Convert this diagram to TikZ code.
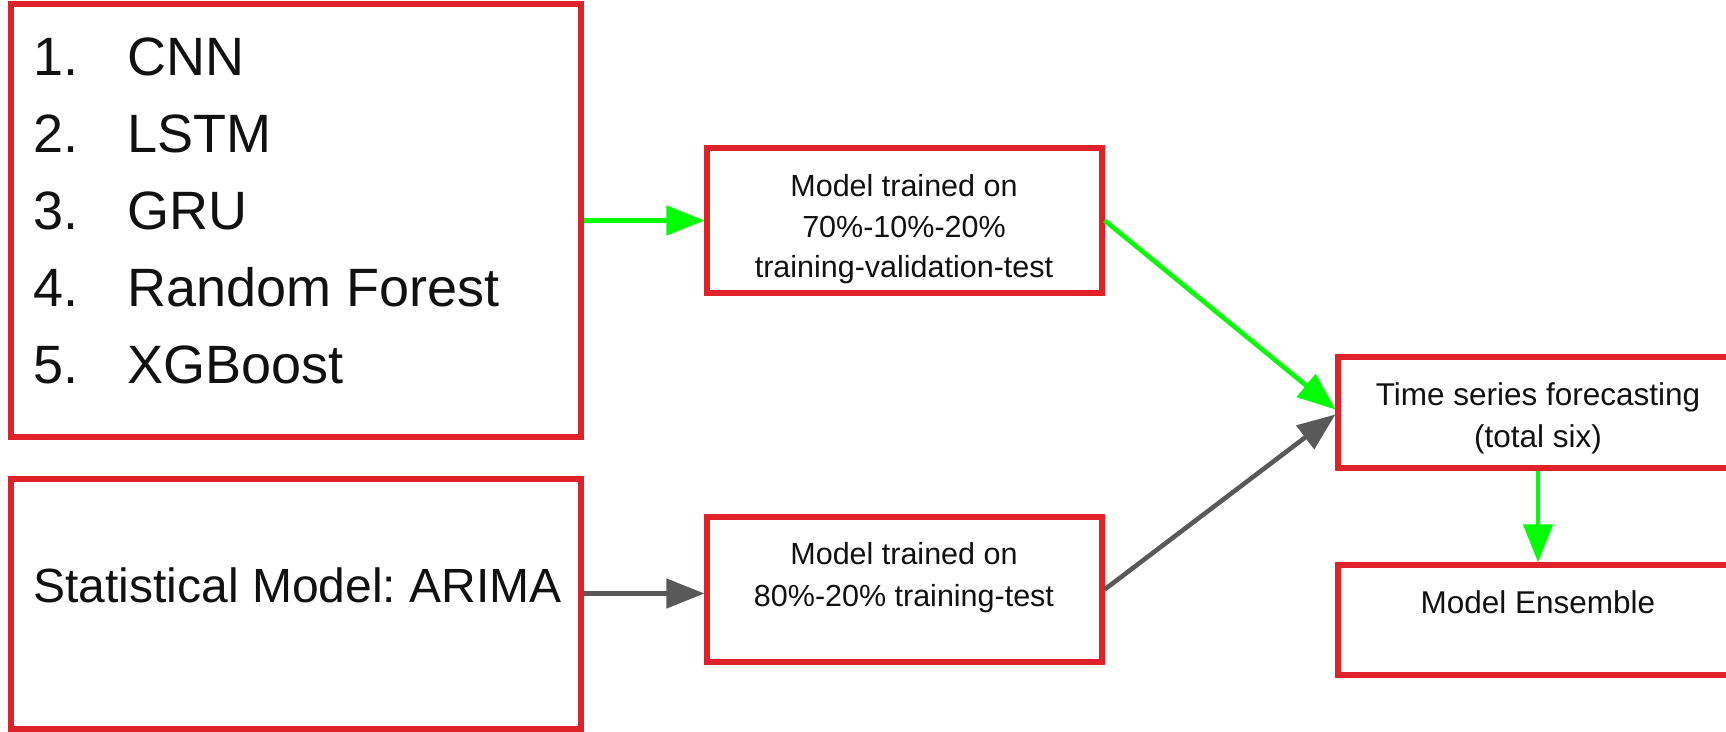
\documentclass[tikz,border=0pt]{standalone}
\usepackage{fontspec}
\setmainfont{Liberation Sans}
\usetikzlibrary{arrows.meta}
\frenchspacing
\definecolor{boxred}{RGB}{223,34,42}
\definecolor{arrgreen}{RGB}{0,255,0}
\definecolor{arrgray}{RGB}{89,89,89}
\definecolor{txt}{RGB}{17,17,17}
\tikzset{
  box/.style={draw=boxred, line width=2.6pt, rectangle, inner sep=0pt, fill=none},
  bigtxt/.style={text=txt, inner sep=0pt, anchor=base west, font=\fontsize{27}{32}\selectfont},
  midtxt/.style={text=txt, inner sep=0pt, anchor=base, font=\fontsize{15.25}{20}\selectfont},
  arimatxt/.style={text=txt, inner sep=0pt, anchor=base west, font=\fontsize{24}{28}\selectfont},
  conn/.style={line width=2.3pt, -{Triangle[length=19pt,width=14.5pt]}},
  greenarrow/.style={conn, draw=arrgreen, fill=arrgreen},
  grayarrow/.style={conn, draw=arrgray, fill=arrgray},
}
\begin{document}
\begin{tikzpicture}[x=0.5pt, y=-0.5pt]
\useasboundingbox (0,0) rectangle (1726,732);
\clip (0,0) rectangle (1726,732);
% boxes
\node[box, minimum width=285pt, minimum height=216.5pt] (b1) at (296,220.5) {};
\node[box, minimum width=285pt, minimum height=125pt] (b2) at (296,604) {};
\node[box, minimum width=197.5pt, minimum height=72.5pt] (m1) at (904.5,220.5) {};
\node[box, minimum width=197.5pt, minimum height=72.5pt] (m2) at (904.5,589.5) {};
\node[box, minimum width=200pt, minimum height=55.5pt] (t) at (1538,412.5) {};
\node[box, minimum width=200pt, minimum height=55pt] (e) at (1538,620) {};
% list text
\node[bigtxt] (n1) at (33,76) {1.};
\node[bigtxt] (i1) at (127,76) {CNN};
\node[bigtxt] (n2) at (33,153) {2.};
\node[bigtxt] (i2) at (127,153) {LSTM};
\node[bigtxt] (n3) at (33,230) {3.};
\node[bigtxt] (i3) at (127,230) {GRU};
\node[bigtxt] (n4) at (33,307) {4.};
\node[bigtxt] (i4) at (127,307) {Random Forest};
\node[bigtxt] (n5) at (33,384) {5.};
\node[bigtxt] (i5) at (127,384) {XGBoost};
\node[arimatxt] (ar) at (33,603) {Statistical Model: ARIMA};
% middle texts
\node[midtxt] (m1a) at (904,197) {Model trained on};
\node[midtxt] (m1b) at (904,238) {70\%-10\%-20\%};
\node[midtxt] (m1c) at (904,278) {training-validation-test};
\node[midtxt] (m2a) at (904,565) {Model trained on};
\node[midtxt] (m2b) at (904,607) {80\%-20\% training-test};
% right texts
\node[midtxt, font=\fontsize{15.75}{20}\selectfont] (ta) at (1538,406) {Time series forecasting};
\node[midtxt, font=\fontsize{15.75}{20}\selectfont] (tb) at (1538,448) {(total six)};
\node[midtxt, font=\fontsize{15.75}{20}\selectfont] (ea) at (1538,614) {Model Ensemble};
% connectors
\coordinate (m2in) at ([yshift=-2pt]m2.west);
\draw[greenarrow] (b1.east |- m1.west) -- (m1.west);
\draw[grayarrow] (b2.east |- m2in) -- (m2in);
\draw[greenarrow] (m1.east) -- ([yshift=1.5pt]t.west);
\draw[grayarrow] (m2.east) -- ([yshift=-1pt]t.west);
\draw[greenarrow] (t.south) -- (e.north);
\end{tikzpicture}
\end{document}
